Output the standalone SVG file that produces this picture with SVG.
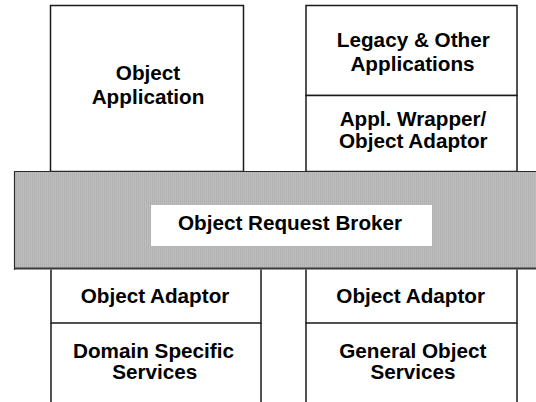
<svg xmlns="http://www.w3.org/2000/svg" width="536" height="402" viewBox="0 0 536 402">
  <defs>
    <!-- fine vertical hatching for the broker band -->
    <pattern id="hatch" x="0" y="0" width="2" height="2" patternUnits="userSpaceOnUse">
      <rect width="2" height="2" fill="#bdbdbd"/>
      <rect x="0" width="1" height="2" fill="#b2b2b2"/>
    </pattern>
  </defs>
  <style>
    .box { fill: #ffffff; stroke: #1a1a1a; stroke-width: 1.5; }
    .rule { stroke: #1a1a1a; stroke-width: 1.5; fill: none; }
    .lbl { font-family: "Liberation Sans", Arial, Helvetica, sans-serif; font-weight: bold; font-size: 20.7px; fill: #000000; text-anchor: middle; }
  </style>
  <rect width="536" height="402" fill="#ffffff"/>

  <g id="object-application">
    <rect class="box" x="50.5" y="5.5" width="193" height="166"/>
    <text class="lbl" x="148" y="80">Object</text>
    <text class="lbl" x="148" y="104">Application</text>
  </g>

  <g id="legacy-applications">
    <rect class="box" x="306" y="5.5" width="211" height="90"/>
    <text class="lbl" x="413.3" y="46.7">Legacy &amp; Other</text>
    <text class="lbl" x="412.5" y="70.7">Applications</text>
  </g>

  <g id="application-wrapper">
    <rect class="box" x="306" y="95.5" width="211" height="76"/>
    <text class="lbl" x="413" y="126">Appl. Wrapper/</text>
    <text class="lbl" x="413.3" y="148.3">Object Adaptor</text>
  </g>

  <g id="object-request-broker">
    <rect x="14" y="171" width="530" height="98" fill="url(#hatch)"/>
    <path d="M14.5 270 V171.5 H536" fill="none" stroke="#2a2a2a" stroke-width="1.2"/>
    <path d="M14 268.5 H536" fill="none" stroke="#3a3a3a" stroke-width="2"/>
    <rect x="151" y="205" width="281" height="41" fill="#ffffff"/>
    <text class="lbl" x="290" y="229.5">Object Request Broker</text>
  </g>

  <g id="object-adaptor-left">
    <path class="rule" d="M51 269.5 V323 H261 V269.5"/>
    <text class="lbl" x="155" y="303.3">Object Adaptor</text>
  </g>

  <g id="domain-specific-services">
    <path class="rule" d="M51 323 V402 M261 323 V402"/>
    <text class="lbl" x="153.5" y="357.8">Domain Specific</text>
    <text class="lbl" x="154.8" y="378.8">Services</text>
  </g>

  <g id="object-adaptor-right">
    <path class="rule" d="M306 269.5 V323 H517 V269.5"/>
    <text class="lbl" x="410.7" y="303.3">Object Adaptor</text>
  </g>

  <g id="general-object-services">
    <path class="rule" d="M306 323 V402 M517 323 V402"/>
    <text class="lbl" x="412.8" y="357.8">General Object</text>
    <text class="lbl" x="413" y="378.8">Services</text>
  </g>

  <g id="connectors"/>
</svg>
